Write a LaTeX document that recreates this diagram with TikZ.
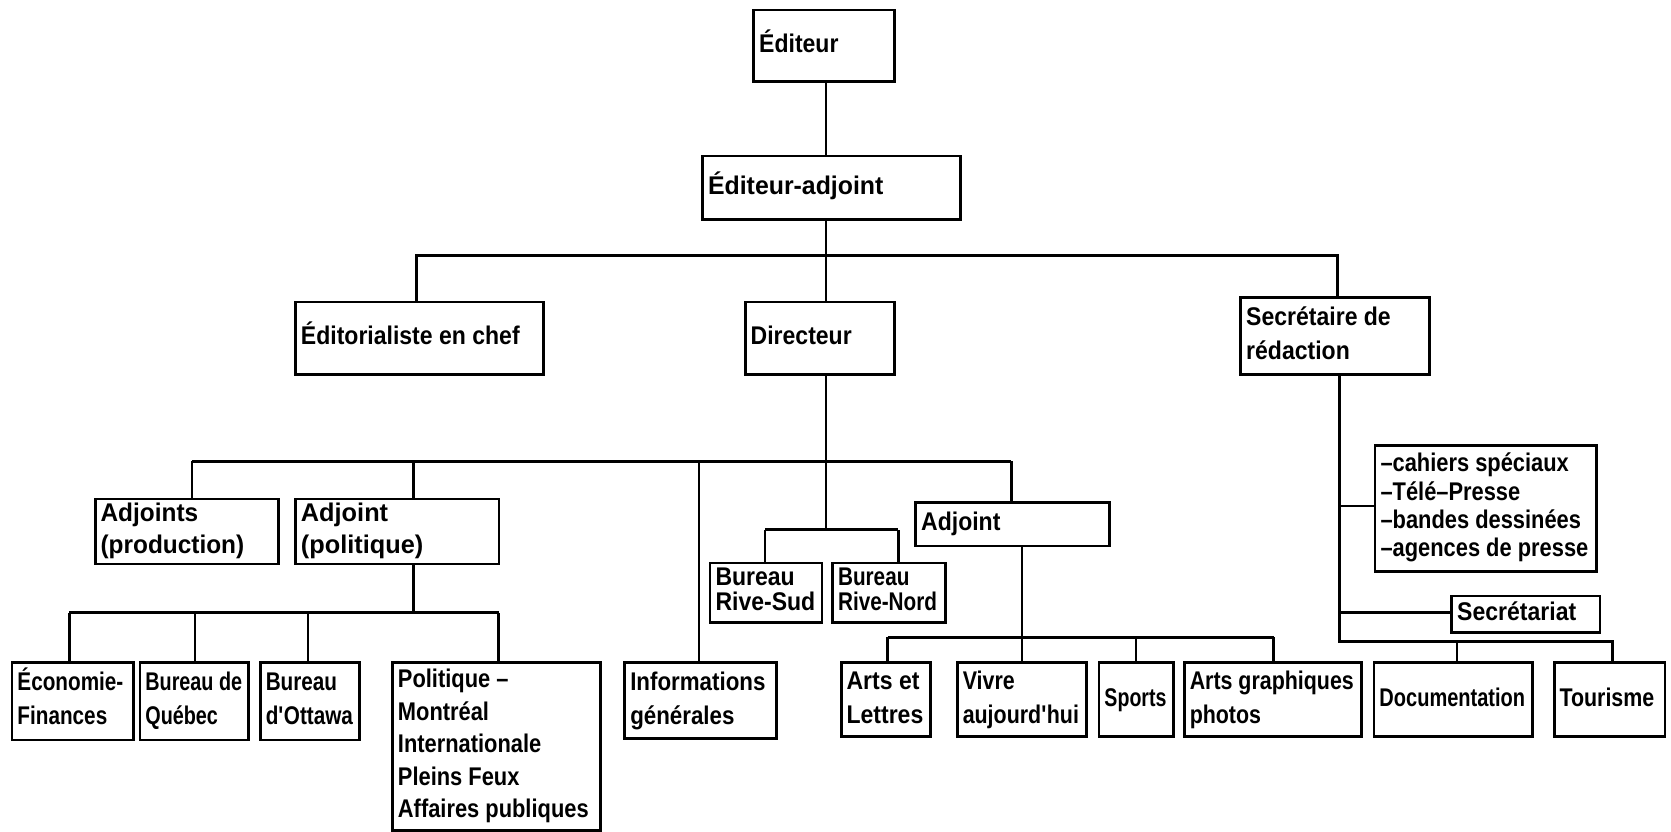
\documentclass[tikz,border=0pt]{standalone}
\usepackage{fontspec}
\usepackage{graphicx}
\setmainfont{Liberation Sans}[FakeStretch=0.9]
% box given by its corners, text set at its left side:
% [squeeze]{name}{x1}{y1}{x2}{y2}{baselineskip}{text}
\newcommand\obx[8][1]{%
  \pgfmathsetmacro\obxw{(#5-#3)*0.5}%
  \pgfmathsetmacro\obxh{(#6-#4)*0.5}%
  \node[obox, minimum width=\obxw pt, minimum height=\obxh pt, anchor=north west] (#2) at (#3,#4) {};
  \node[otext, font=\bfseries\fontsize{12}{#7}\selectfont] at ([xshift=3pt]#2.west)
    {\scalebox{#1}[1]{\begin{tabular}{@{}l@{}}#8\end{tabular}}};}
\begin{document}
\begin{tikzpicture}[x=0.5pt, y=-0.5pt,
  obox/.style={draw, line width=1.3pt, inner sep=0pt},
  otext/.style={anchor=west, inner sep=0pt},
  link/.style={line width=1.2pt}]
\useasboundingbox (0,0) rectangle (1568,780);

% top of the chart
\obx{ed}{706}{8}{838}{75}{16}{Éditeur}
\obx[1.08]{edadj}{658}{145}{900}{205}{16}{Éditeur-adjoint}
\obx{edch}{276}{282}{509}{350}{16}{Éditorialiste en chef}
\obx{dir}{698}{282}{838}{350}{16}{Directeur}
\obx{secr}{1163}{278}{1340}{350}{16}{Secrétaire de\\rédaction}

% under the director
\obx[1.06]{adjprod}{88}{467}{260}{528}{15}{Adjoints\\(production)}
\obx[1.1]{adjpol}{276}{467}{467}{528}{15}{Adjoint\\(politique)}
\obx[0.97]{info}{585}{620}{727}{692}{16}{Informations\\générales}
\obx{rsud}{665}{527}{770}{583}{11.5}{Bureau\\Rive-Sud}
\obx[0.9]{rnord}{780}{527}{886}{583}{11.5}{Bureau\\Rive-Nord}
\obx{adjr}{858}{470}{1040}{511}{16}{Adjoint}

% politics desk
\obx[0.9]{eco}{10}{620}{124}{693}{16}{Économie-\\Finances}
\obx[0.86]{quebec}{130}{620}{232}{693}{16}{Bureau de\\Québec}
\obx[0.9]{ottawa}{243}{620}{336}{693}{16}{Bureau\\d\textquotesingle Ottawa}
\obx[0.95]{polit}{367}{620}{562}{778}{15.25}{Politique –\\Montréal\\Internationale\\Pleins Feux\\Affaires publiques}

% sections under the right-hand adjoint
\obx{arts}{788}{620}{872}{690}{16}{Arts et\\Lettres}
\obx[0.93]{vivre}{897}{620}{1018}{690}{16}{Vivre\\aujourd\textquotesingle hui}
\obx[0.85]{sports}{1030}{620}{1100}{690}{16}{Sports}
\obx[0.93]{graph}{1110}{620}{1276}{690}{16}{Arts graphiques\\photos}

% under the editorial secretary
\obx[0.95]{list}{1289}{417}{1497}{535}{13.3}{–cahiers spéciaux\\–Télé–Presse\\–bandes dessinées\\–agences de presse}
\obx{secrt}{1361}{558}{1500}{592}{16}{Secrétariat}
\obx[0.87]{doc}{1288}{620}{1437}{690}{16}{Documentation}
\obx[0.93]{tour}{1457}{620}{1561}{690}{16}{Tourisme}

% junction points
\coordinate (t1) at (391,240);
\coordinate (t2) at (775,240);
\coordinate (t3) at (1255,240);
\coordinate (d1) at (180,433);
\coordinate (d2) at (388,433);
\coordinate (d3) at (656,433);
\coordinate (d4) at (775,433);
\coordinate (d5) at (949,433);
\coordinate (b0) at (775,497);
\coordinate (b1) at (718,497);
\coordinate (b2) at (843,497);
\coordinate (p0) at (388,575);
\coordinate (p1) at (65,575);
\coordinate (p2) at (183,575);
\coordinate (p3) at (289,575);
\coordinate (p4) at (468,575);
\coordinate (a0) at (959,598);
\coordinate (a1) at (833,598);
\coordinate (a3) at (1066,598);
\coordinate (a4) at (1195,598);
\coordinate (s0) at (1257,602);
\coordinate (s1) at (1257,475);
\coordinate (s2) at (1257,575);
\coordinate (s3) at (1367,602);
\coordinate (s4) at (1513,602);

% connectors
\draw[link] (ed.south -| t2) -- (edadj.north -| t2);
\draw[link] (edadj.south -| t2) -- (dir.north -| t2);
\draw[link] (edch.north -| t1) -- (t1) -- (t3) -- (secr.north -| t3);

\draw[link] (dir.south -| d4) -- (b0);
\draw[link] (d1) -- (d5);
\draw[link] (adjprod.north -| d1) -- (d1);
\draw[link] (adjpol.north -| d2) -- (d2);
\draw[link] (info.north -| d3) -- (d3);
\draw[link] (adjr.north -| d5) -- (d5);
\draw[link] (b1) -- (b2);
\draw[link] (rsud.north -| b1) -- (b1);
\draw[link] (rnord.north -| b2) -- (b2);

\draw[link] (adjpol.south -| p0) -- (p0);
\draw[link] (p1) -- (p4);
\draw[link] (eco.north -| p1) -- (p1);
\draw[link] (quebec.north -| p2) -- (p2);
\draw[link] (ottawa.north -| p3) -- (p3);
\draw[link] (polit.north -| p4) -- (p4);

\draw[link] (adjr.south -| a0) -- (vivre.north -| a0);
\draw[link] (a1) -- (a4);
\draw[link] (arts.north -| a1) -- (a1);
\draw[link] (sports.north -| a3) -- (a3);
\draw[link] (graph.north -| a4) -- (a4);

\draw[link] (secr.south -| s0) -- (s0) -- (s4) -- (tour.north -| s4);
\draw[link] (s3) -- (doc.north -| s3);
\draw[link] (s1) -- (list.west |- s1);
\draw[link] (s2) -- (secrt.west |- s2);
\end{tikzpicture}
\end{document}
